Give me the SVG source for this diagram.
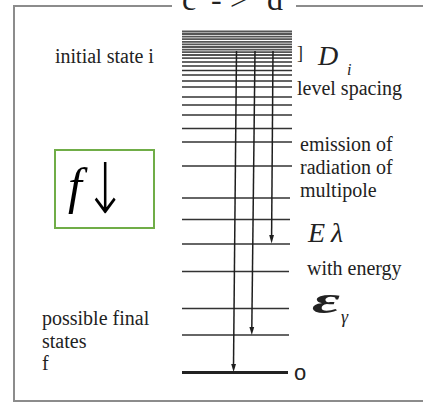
<svg xmlns="http://www.w3.org/2000/svg" width="423" height="404" viewBox="0 0 423 404">
<style>
.frame{fill:none;stroke:#8c8c8c;stroke-width:2}
.lvl{stroke:#333;stroke-width:1.7}
.dense{stroke:#555;stroke-width:1.8}
.tr{stroke:#1e1e1e;stroke-width:1.5;fill:none}
.head{fill:#1e1e1e}
.s{font-family:"Liberation Serif","Times New Roman",serif;fill:#222;font-size:20px}
.i{font-style:italic}
</style>
<rect width="423" height="404" fill="#fff"/>
<g id="frame">
<polyline class="frame" points="172,6 14,6 14,401 424,401"/>
<line class="frame" x1="296" y1="6" x2="424" y2="6"/>
<text class="s" style="font-size:32px" y="10"><tspan x="182">c</tspan> <tspan x="211">-</tspan><tspan x="230">&gt;</tspan> <tspan x="267">d</tspan></text>
</g>
<g id="levels">
<line class="dense" x1="182" y1="31.5" x2="292" y2="31.5"/>
<line class="dense" x1="182" y1="34" x2="292" y2="34"/>
<line class="dense" x1="182" y1="36.6" x2="292" y2="36.6"/>
<line class="dense" x1="182" y1="39.2" x2="292" y2="39.2"/>
<line class="dense" x1="182" y1="41.8" x2="292" y2="41.8"/>
<line class="dense" x1="182" y1="44.4" x2="292" y2="44.4"/>
<line class="dense" x1="182" y1="47" x2="292" y2="47"/>
<line class="dense" x1="182" y1="49.6" x2="292" y2="49.6"/>
<line class="dense" x1="182" y1="52.2" x2="292" y2="52.2"/>
<line class="dense" x1="182" y1="55" x2="292" y2="55"/>
<line class="dense" x1="182" y1="58.2" x2="292" y2="58.2"/>
<line class="lvl" x1="182" y1="62" x2="292" y2="62"/>
<line class="lvl" x1="182" y1="66" x2="292" y2="66"/>
<line class="lvl" x1="182" y1="70.5" x2="292" y2="70.5"/>
<line class="lvl" x1="182" y1="75" x2="292" y2="75"/>
<line class="lvl" x1="182" y1="81" x2="292" y2="81"/>
<line class="lvl" x1="182" y1="87" x2="292" y2="87"/>
<line class="lvl" x1="182" y1="97" x2="292" y2="97"/>
<line class="lvl" x1="182" y1="105" x2="292" y2="105"/>
<line class="lvl" x1="182" y1="115" x2="292" y2="115"/>
<line class="lvl" x1="182" y1="128.5" x2="292" y2="128.5"/>
<line class="lvl" x1="182" y1="142" x2="292" y2="142"/>
<line class="lvl" x1="182" y1="166" x2="292" y2="166"/>
<line class="lvl" x1="182" y1="198" x2="290" y2="198"/>
<line class="lvl" x1="182" y1="219.5" x2="290" y2="219.5"/>
<line class="lvl" x1="182" y1="244" x2="290" y2="244"/>
<line class="lvl" x1="182" y1="271.5" x2="289" y2="271.5"/>
<line class="lvl" x1="182" y1="308.5" x2="289" y2="308.5"/>
<line class="lvl" x1="182" y1="335" x2="289" y2="335"/>
<line x1="182" y1="372.5" x2="288" y2="372.5" stroke="#222" stroke-width="3"/>
</g>
<g id="connectors">
<line class="tr" x1="236.5" y1="51" x2="233.5" y2="366"/>
<polygon class="head" points="231.2,364 236,364 233.6,372"/>
<line class="tr" x1="255" y1="51" x2="251.8" y2="329"/>
<polygon class="head" points="249.4,327 254.2,327 251.8,335"/>
<line class="tr" x1="273" y1="51" x2="271.6" y2="237"/>
<polygon class="head" points="269.2,235 274,235 271.6,243.5"/>
</g>
<g id="labels">
<text class="s" x="55" y="63">initial state i</text>
<text class="s" x="297" y="59" style="font-size:18px">]</text>
<text class="s i" x="318" y="65" style="font-size:28px">D</text>
<text class="s i" x="347" y="74.5" style="font-size:16px">i</text>
<text class="s" x="297" y="95">level spacing</text>
<text class="s" x="300" y="151">emission of</text>
<text class="s" x="300" y="174">radiation of</text>
<text class="s" x="300" y="197">multipole</text>
<text class="s i" x="308" y="242" style="font-size:28px">E</text>
<text class="s i" x="331" y="242" style="font-size:28px">λ</text>
<text class="s" x="307" y="275">with energy</text>
<text class="s i" x="312" y="313" style="font-size:38px;font-weight:bold" textLength="28" lengthAdjust="spacingAndGlyphs">ε</text>
<text class="s i" x="341" y="323" style="font-size:18px">γ</text>
<text class="s" x="42" y="325">possible final</text>
<text class="s" x="42" y="348">states</text>
<text class="s" x="42" y="370">f</text>
<text x="294" y="380" style="font-family:'Liberation Sans',Arial,sans-serif;font-size:22px;fill:#222">o</text>
</g>
<g id="fbox">
<rect x="55" y="150" width="99" height="78" fill="none" stroke="#70AD47" stroke-width="2"/>
<text x="68" y="202.5" style="font-family:'Liberation Serif',serif;font-style:italic;font-size:50px;fill:#000">f</text>
<text transform="translate(83.4,212.7) scale(0.74,1)" x="0" y="0" style="font-family:'DejaVu Sans',sans-serif;font-weight:200;font-size:70px;fill:#000">↓</text>
</g>
</svg>
